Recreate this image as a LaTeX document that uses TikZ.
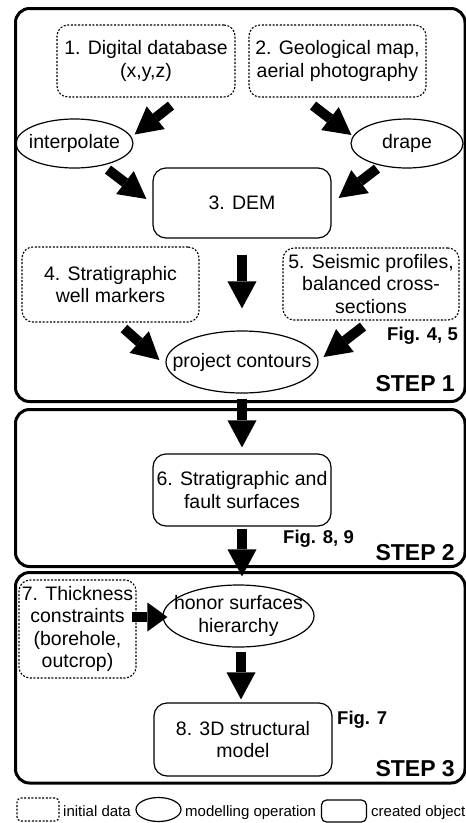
\documentclass[tikz,border=0pt]{standalone}
\usepackage{fontspec}
\setmainfont{Liberation Sans}
\usetikzlibrary{shapes.geometric,arrows.meta,calc}
\newcommand{\mainfs}{\fontsize{19.5}{22.5}\selectfont}
\begin{document}
\begin{tikzpicture}[x=1pt,y=-1pt,
  bigbox/.style={line width=3pt, rounded corners=14pt},
  datanode/.style={draw, line width=1.1pt, dash pattern=on 2pt off 1.6pt, rounded corners=11pt, inner sep=0pt, align=center, font=\mainfs},
  objnode/.style={draw, line width=1.2pt, rounded corners=13pt, inner sep=0pt, align=center, font=\mainfs},
  opnode/.style={draw, ellipse, line width=1.2pt, inner sep=0pt},
  optext/.style={inner sep=0pt, align=center, font=\mainfs},
  flow/.style={line width=10pt, -{Triangle[width=29pt,length=27pt,line width=0pt]}},
  shortflow/.style={line width=10pt, -{Triangle[width=29pt,length=20pt,line width=0pt]}},
  figlabel/.style={font=\bfseries\fontsize{18.5}{20}\selectfont, inner sep=0pt},
  steplabel/.style={font=\bfseries\fontsize{23}{25}\selectfont, inner sep=0pt, anchor=base east},
  legtext/.style={font=\fontsize{15}{17}\selectfont, inner sep=0pt, anchor=base west}]
\useasboundingbox (0,0) rectangle (466,823);
\begin{scope}
\clip (0,0) rectangle (466,823);
% step boxes
\draw[bigbox] (15.5,8.5) rectangle (465,401.5);
\draw[bigbox] (15.5,409.5) rectangle (465,566.5);
\draw[bigbox] (15.5,572.5) rectangle (465,783);
\end{scope}

% nodes
\node[datanode, minimum width=178pt, minimum height=72pt] (b1) at (146,61) {1. Digital database\\(x,y,z)};
\node[datanode, minimum width=177pt, minimum height=72pt] (b2) at (337.5,61) {2. Geological map,\\aerial photography};
\node[opnode, minimum width=117pt, minimum height=49pt, label={[optext]center:interpolate}] (ip) at (74.5,143.5) {};
\node[opnode, minimum width=112pt, minimum height=49pt, label={[optext]center:drape}] (dr) at (407,143.5) {};
\node[objnode, minimum width=178pt, minimum height=70pt] (dem) at (242,203) {3. DEM};
\node[datanode, minimum width=177pt, minimum height=75pt] (b4) at (110.5,284.5) {4. Stratigraphic\\well markers};
\node[datanode, minimum width=176pt, minimum height=72pt] (b5) at (371,284) {5. Seismic profiles,\\balanced cross-\\sections};
\node[opnode, minimum width=152pt, minimum height=62pt, label={[optext]center:project contours}] (pc) at (242,362) {};
\node[objnode, minimum width=178pt, minimum height=72pt] (b6) at (242,490) {6. Stratigraphic and\\fault surfaces};
\node[datanode, minimum width=117pt, minimum height=98pt] (b7) at (77.5,629) {7. Thickness\\constraints\\(borehole,\\outcrop)};
\node[opnode, minimum width=151pt, minimum height=62pt, label={[optext]center:{honor surfaces\\hierarchy}}] (ho) at (238.5,616) {};
\node[objnode, minimum width=178pt, minimum height=73pt] (b8) at (243,739.5) {8. 3D structural\\model};

% labels
\node[figlabel, anchor=base east] (f45) at (458,340) {Fig. 4, 5};
\node[figlabel, anchor=base west] (f89) at (283,543) {Fig. 8, 9};
\node[figlabel, anchor=base west] (f7) at (337,724) {Fig. 7};
\node[steplabel] (s1) at (455,391) {STEP 1};
\node[steplabel] (s2) at (455,560) {STEP 2};
\node[steplabel] (s3) at (455,776) {STEP 3};

% arrows
\draw[flow] ($(b1.south)+(25,8)$) -- ($(ip.east)+(1,-9)$);
\draw[flow] ($(b2.south)+(-24.5,8)$) -- ($(dr.west)+(1,-8.5)$);
\draw[flow] ($(ip.south)+(33.5,1)$) -- ($(dem.west)+(-6,-4)$);
\draw[flow] ($(dr.south)+(-30,0)$) -- ($(dem.east)+(7,-5)$);
\draw[flow] ($(dem.south)+(0,16)$) -- ($(pc.north)+(0,-22)$);
\draw[flow] ($(b4.south)+(13.5,6)$) -- ($(pc.west)+(-6,-2)$);
\draw[flow] ($(b5.south)+(-8,6)$) -- ($(pc.east)+(5,-5)$);
\draw[flow] ($(pc.south)+(0,5)$) -- ($(b6.north)+(0,-6)$);
\draw[flow] ($(b6.south)+(0,2)$) -- ($(ho.north)+(3.5,-8)$);
\draw[shortflow] ($(b7.east)+(-5,-12)$) -- ($(ho.west)+(5,1)$);
\draw[flow] ($(ho.south)+(2.5,4)$) -- ($(b8.north)+(-2,-3)$);

% legend
\node[draw, line width=1.1pt, dash pattern=on 2pt off 1.6pt, rounded corners=4pt, minimum width=42pt, minimum height=23pt, inner sep=0pt] (lg1) at (38,809.5) {};
\node[legtext] (lt1) at (63,816) {initial data};
\node[opnode, minimum width=45pt, minimum height=24pt] (lg2) at (158.5,809.5) {};
\node[legtext] (lt2) at (185,816) {modelling operation};
\node[draw, line width=1.2pt, rounded corners=5pt, minimum width=45pt, minimum height=22pt, inner sep=0pt] (lg3) at (344,811) {};
\node[legtext] (lt3) at (371,816) {created object};
\end{tikzpicture}
\end{document}
